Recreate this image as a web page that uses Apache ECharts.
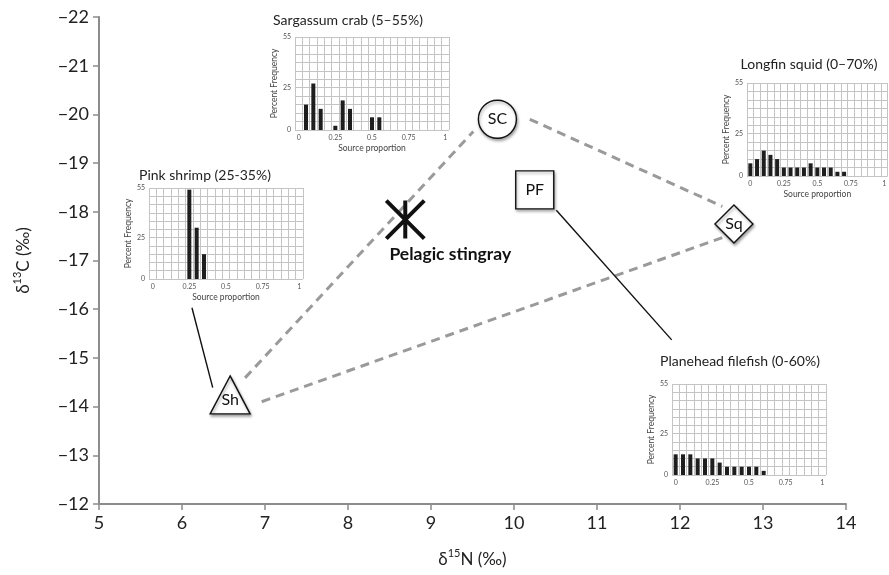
<!DOCTYPE html>
<html>
<head>
<meta charset="utf-8">
<script src="https://cdn.jsdelivr.net/npm/echarts@6/dist/echarts.min.js"></script>
<style>html,body{margin:0;padding:0;background:#fff}#c{width:889px;height:575px}</style>
</head>
<body>
<div id="c"></div>
<script>
// ---- main isotope biplot data ----
const sourceNames = ['SC', 'PF', 'Sq', 'Sh'];
const sourceN15 = [9.8, 10.25, 12.65, 6.58];
const sourceC13 = [-19.9, -18.45, -17.75, -14.24];
const consumerName = 'Pelagic stingray';
const consumerN15 = [8.69];
const consumerC13 = [-17.84];
const xTicksMin = 5, xTicksMax = 14;
const yTicksMin = -22, yTicksMax = -12;
// mixing-polygon edges (dashed) and leader lines (solid), in data units
const mixingEdges = [
  [[6.76, -14.59], [9.51, -19.65]],
  [[10.19, -19.90], [12.51, -18.11]],
  [[6.96, -14.10], [12.51, -17.47]]
];
const leaderLines = [
  [[6.12, -16.03], [6.37, -14.39]],
  [[10.51, -18.03], [11.90, -15.37]]
];

// ---- inset histograms ----
const proportionCategories = ['0','0.05','0.1','0.15','0.2','0.25','0.3','0.35','0.4','0.45','0.5','0.55','0.6','0.65','0.7','0.75','0.8','0.85','0.9','0.95','1'];
const freqLabelValues = [0, 25, 55];
const insetTitles = ['Sargassum crab (5–55%)', 'Longfin squid (0–70%)', 'Pink shrimp (25-35%)', 'Planehead filefish (0-60%)'];
const crabFreq = [null,15,27.5,12.5,null,2.5,17.5,12.5,null,null,7.5,7.5,null,null,null,null,null,null,null,null,null];
const squidFreq = [7.5,10,15,12.5,10,5,5,5,5,7.5,5,5,5,2.5,2.5,null,null,null,null,null,null];
const shrimpFreq = [null,null,null,null,null,54,31,15,null,null,null,null,null,null,null,null,null,null,null,null,null];
const filefishFreq = [12.5,12.5,12.5,10,10,10,7.5,5,5,5,5,5,2.5,null,null,null,null,null,null,null,null];

const FONT = 'Lato, "Noto Sans", sans-serif';
const insetLayout = [
  {grid: {left: 295, top: 37, width: 154, height: 93}, title: [343, 8], xName: true, data: crabFreq},
  {grid: {left: 747, top: 83, width: 154, height: 93}, title: [804, 52], xName: true, data: squidFreq},
  {grid: {left: 149, top: 188, width: 154, height: 91}, title: [200, 163], xName: true, data: shrimpFreq},
  {grid: {left: 672, top: 384, width: 154, height: 91}, title: [735, 349], xName: false, data: filefishFreq}
];

const grids = [{left: 99, top: 17, right: 43, bottom: 71}];
const richName = {
  a: {fontSize: 17, lineHeight: 20, fontFamily: FONT, color: '#222', verticalAlign: 'bottom'},
  s: {fontSize: 11, lineHeight: 20, fontFamily: FONT, color: '#222', verticalAlign: 'top'}
};
const xAxes = [{
  type: 'value', min: xTicksMin, max: xTicksMax, interval: 1, gridIndex: 0,
  axisLine: {show: true, lineStyle: {color: '#8c8c8c', width: 2}},
  axisTick: {show: true, length: 6, lineStyle: {color: '#8c8c8c', width: 1.5}},
  splitLine: {show: false},
  axisLabel: {fontSize: 18, color: '#222', fontFamily: FONT, margin: 10},
  name: '{a|δ}{s|15}{a|N (‰)}', nameLocation: 'middle', nameGap: 44,
  nameTextStyle: {fontFamily: FONT, color: '#222', rich: richName}
}];
const yAxes = [{
  type: 'value', min: yTicksMin, max: yTicksMax, interval: 1, inverse: true, gridIndex: 0,
  axisLine: {show: true, lineStyle: {color: '#8c8c8c', width: 2}},
  axisTick: {show: true, length: 6, lineStyle: {color: '#8c8c8c', width: 1.5}},
  splitLine: {show: false},
  axisLabel: {fontSize: 18, color: '#222', fontFamily: FONT, margin: 10,
    formatter: v => String(v).replace('-', '−')},
  name: '{a|δ}{s|13}{a|C (‰)}', nameLocation: 'middle', nameGap: 67, nameRotate: 90,
  nameTextStyle: {fontFamily: FONT, color: '#222', rich: richName}
}];

const titles = [];
const series = [];
const gridLine = {color: '#c4c4c4', width: 1};
insetLayout.forEach((ins, i) => {
  const gi = i + 1;
  grids.push(ins.grid);
  titles.push({text: insetTitles[i], left: ins.title[0], top: ins.title[1], textAlign: 'center',
    textStyle: {fontSize: 14, fontWeight: 'normal', color: '#222', fontFamily: FONT}});
  xAxes.push({
    type: 'category', gridIndex: gi, data: proportionCategories, boundaryGap: true,
    axisLine: {show: false}, axisTick: {show: false},
    splitLine: {show: true, interval: 0, lineStyle: gridLine},
    axisLabel: {interval: 4, fontSize: 7, color: '#555', fontFamily: FONT, margin: 4},
    name: ins.xName ? 'Source proportion' : '', nameLocation: 'middle', nameGap: 14,
    nameTextStyle: {fontSize: 8.5, color: '#444', fontFamily: FONT}
  });
  yAxes.push({
    type: 'value', gridIndex: gi, min: 0, max: 55, interval: 5,
    axisLine: {show: false}, axisTick: {show: false},
    splitLine: {show: true, lineStyle: gridLine},
    axisLabel: {fontSize: 7, color: '#555', fontFamily: FONT, margin: 4,
      formatter: v => freqLabelValues.includes(v) ? String(v) : ''},
    name: 'Percent Frequency', nameLocation: 'middle', nameGap: 12, nameRotate: 90,
    nameTextStyle: {fontSize: 8.5, color: '#444', fontFamily: FONT}
  });
  series.push({
    type: 'bar', xAxisIndex: gi, yAxisIndex: gi, data: ins.data, barWidth: 4,
    itemStyle: {color: '#1e1e1e', opacity: 1}, silent: true, animation: false
  });
});

// main chart series
series.push({
  type: 'lines', coordinateSystem: 'cartesian2d', xAxisIndex: 0, yAxisIndex: 0, z: 2,
  data: mixingEdges.map(c => ({coords: c})),
  lineStyle: {color: '#9a9a9a', width: 3, type: [9, 6], opacity: 1}, animation: false, silent: true
});
series.push({
  type: 'lines', coordinateSystem: 'cartesian2d', xAxisIndex: 0, yAxisIndex: 0, z: 2,
  data: leaderLines.map(c => ({coords: c})),
  lineStyle: {color: '#111', width: 1.4, opacity: 1}, animation: false, silent: true
});
const sourceSymbols = {SC: 'circle', PF: 'rect', Sq: 'diamond', Sh: 'triangle'};
series.push({
  type: 'scatter', xAxisIndex: 0, yAxisIndex: 0, z: 5, animation: false, silent: true,
  data: sourceNames.map((n, i) => ({
    name: n, value: [sourceN15[i], sourceC13[i]], symbol: sourceSymbols[n],
    symbolSize: n === 'Sh' ? [40, 38] : 38,
    label: n === 'Sh' ? {offset: [0, 5]} : {}
  })),
  itemStyle: {color: '#fff', opacity: 1, borderColor: '#111', borderWidth: 1.4,
    shadowBlur: 3, shadowColor: 'rgba(0,0,0,0.35)', shadowOffsetX: 1, shadowOffsetY: 2},
  label: {show: true, position: 'inside', formatter: p => p.name, fontSize: 16, color: '#111', fontFamily: FONT}
});
series.push({
  type: 'scatter', xAxisIndex: 0, yAxisIndex: 0, z: 6, animation: false, silent: true,
  data: consumerN15.map((x, i) => ({name: consumerName, value: [x, consumerC13[i]]})),
  symbol: 'path://M0,0L10,10M10,0L0,10M5,0L5,10', symbolSize: 38,
  itemStyle: {color: 'rgba(0,0,0,0)', opacity: 1, borderColor: '#111', borderWidth: 4},
  label: {show: true, position: 'bottom', offset: [45, 0], formatter: p => p.name,
    fontSize: 17.5, fontWeight: 'bold', color: '#111', fontFamily: FONT}
});

const chart = echarts.init(document.getElementById('c'));
chart.setOption({
  animation: false,
  backgroundColor: '#fff',
  textStyle: {fontFamily: FONT},
  title: titles,
  grid: grids,
  xAxis: xAxes,
  yAxis: yAxes,
  series: series
});
</script>
</body>
</html>
